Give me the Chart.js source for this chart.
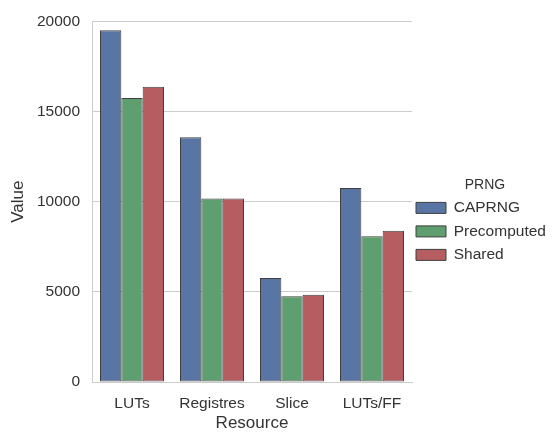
<!DOCTYPE html>
<html>
<head>
<meta charset="utf-8">
<script src="https://cdn.jsdelivr.net/npm/chart.js@4/dist/chart.umd.min.js"></script>
<style>
  body { margin: 0; background: #fff; }
  #wrap { width: 555px; height: 432px; }
</style>
</head>
<body>
<div id="wrap"><canvas id="chart" width="555" height="432"></canvas></div>
<script>
// data
const resources = ['LUTs', 'Registres', 'Slice', 'LUTs/FF'];
const caprng = [19500, 13570, 5770, 10750];
const precomputed = [15750, 10180, 4760, 8080];
const shared = [16370, 10180, 4840, 8390];
const yTicks = [0, 5000, 10000, 15000, 20000];

const textColor = '#333333';
const gridColor = '#cccccc';
const font = 'Liberation Sans, Arial, sans-serif';

// force sizes of axes / legend so the plot area sits where it does in the picture
const sizePlugin = {
  id: 'sizePlugin',
  beforeInit(chart) {
    const lg = chart.legend;
    if (lg) {
      const fit = lg.fit;
      lg.fit = function () {
        fit.call(this);
        this.width = 143;
      };
    }
  },
  beforeDraw(chart) {
    // nudge legend a bit to the left, like seaborn places it
    if (chart.legend) {
      chart.legend.left = 408;
      chart.legend.width = 154;
    }
  }
};

new Chart(document.getElementById('chart'), {
  type: 'bar',
  data: {
    labels: resources,
    datasets: [
      { label: 'CAPRNG', data: caprng, backgroundColor: '#5875a4' },
      { label: 'Precomputed', data: precomputed, backgroundColor: '#5f9e6e' },
      { label: 'Shared', data: shared, backgroundColor: '#b55d60' }
    ]
  },
  options: {
    responsive: false,
    animation: false,
    layout: { padding: { top: 18, left: 0, right: 0, bottom: 0 } },
    datasets: {
      bar: {
        categoryPercentage: 0.8,
        barPercentage: 1.0,
        borderColor: '#3f3f3f',
        borderWidth: 1,
        borderSkipped: false
      }
    },
    scales: {
      x: {
        grid: { display: false, drawTicks: false },
        border: { display: true, color: gridColor },
        ticks: { color: textColor, font: { family: font, size: 15.5 }, padding: 12 },
        title: { display: true, text: 'Resource', color: textColor, font: { family: font, size: 17 }, padding: { top: 0, bottom: -2 } },
        afterFit(scale) { scale.height = 50; }
      },
      y: {
        min: 0,
        max: 20000,
        afterBuildTicks(scale) { scale.ticks = yTicks.map(v => ({ value: v })); },
        grid: { color: gridColor, drawTicks: false },
        border: { display: true, color: gridColor },
        ticks: {
          color: textColor,
          font: { family: font, size: 15.5 },
          padding: 12,
          callback: v => String(v)
        },
        title: { display: true, text: 'Value', color: textColor, font: { family: font, size: 17 }, padding: { top: 8, bottom: 0 } },
        afterFit(scale) { scale.width = 92; }
      }
    },
    plugins: {
      tooltip: { enabled: false },
      legend: {
        position: 'right',
        labels: {
          color: textColor,
          font: { family: font, size: 15.5 },
          boxWidth: 30,
          boxHeight: 11,
          padding: 8
        },
        title: {
          display: true,
          text: 'PRNG',
          color: textColor,
          font: { family: font, size: 14 },
          padding: { top: -1, bottom: -3 }
        }
      }
    }
  },
  plugins: [sizePlugin]
});
</script>
</body>
</html>
